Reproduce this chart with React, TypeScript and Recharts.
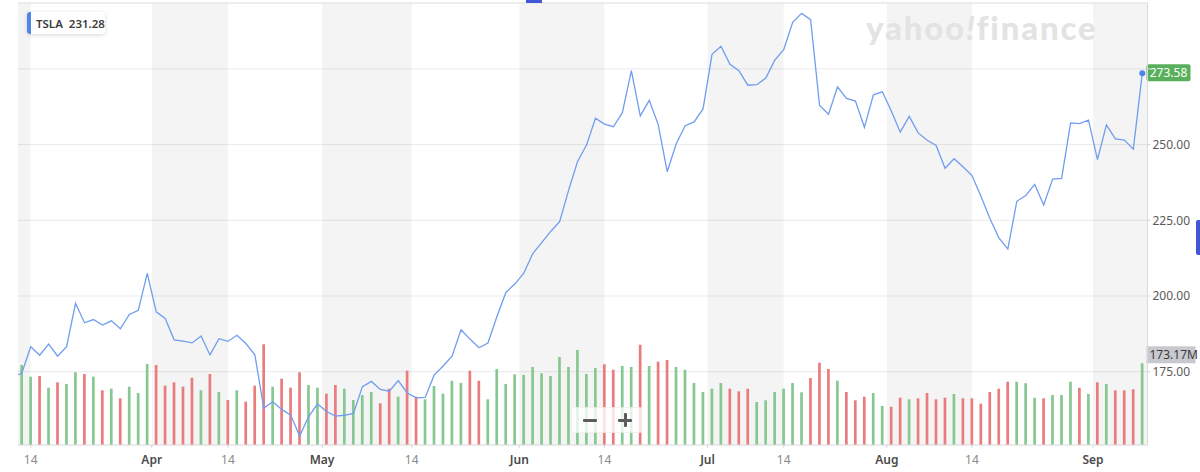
import {
  ComposedChart,
  Line,
  Bar,
  Cell,
  XAxis,
  YAxis,
  CartesianGrid,
  ReferenceArea,
  ReferenceLine,
} from "recharts";

// TSLA daily closes, Mar 10 2023 .. Sep 11 2023 (first one sits just left of the plot)
const closes = [
  173.44,
  174.48, 183.26, 180.45, 184.13, 180.13, 183.25, 197.58, 191.15, 192.22, 190.41,
  191.81, 189.19, 193.88, 195.28, 207.46,
  194.77, 192.58, 185.52, 185.06, 184.51, 186.79, 180.54, 185.9, 185.0, 187.04,
  184.31, 180.59, 162.99, 165.08, 162.55, 160.67, 153.75, 160.19, 164.31,
  161.83, 160.31, 160.61, 161.2, 170.06, 171.79, 169.15, 168.54, 172.08, 167.98,
  166.35, 166.52, 173.86, 176.89, 180.14, 188.87, 185.77, 182.9, 184.47, 193.17,
  201.16, 203.93,
  207.52, 213.97, 217.61, 221.31, 224.57, 234.86, 244.4, 249.83, 258.71, 256.79,
  255.9, 260.54, 274.45, 259.46, 264.61, 256.6, 241.05, 250.21, 256.24, 257.5, 261.77,
  279.82, 282.48, 276.54, 274.43, 269.61, 269.79, 271.99, 277.9, 281.38, 290.38,
  293.34, 291.26, 262.9, 260.02, 269.06, 265.28, 264.35, 255.71, 266.44, 267.43,
  261.07, 254.11, 259.32, 253.86, 251.45, 249.7, 242.19, 245.34, 242.65, 239.76,
  232.96, 225.6, 219.22, 215.49, 231.28, 233.19, 236.86, 230.04, 238.59, 238.82,
  257.18, 256.9, 258.08,
  245.01, 256.49, 251.92, 251.49, 248.5, 273.58,
];

// volume in millions, Mar 13 onwards (none shown for Mar 10)
const volumes = [
  null,
  169.6, 144.8, 146.3, 121.5, 132.9, 129.3, 154.1, 150.5, 144.8, 116.0, 119.4, 99.0,
  123.6, 110.2, 171.7,
  169.6, 125.7, 132.9, 123.6, 142.7, 116.0, 150.5, 112.4, 95.4, 116.0, 91.8, 125.7,
  213.5, 123.6, 140.6, 121.5, 154.1, 127.2, 121.5,
  108.8, 127.2, 119.4, 95.4, 106.0, 112.4, 88.4, 119.4, 102.4, 157.5, 102.4, 96.9,
  125.1, 108.8, 136.3, 131.4, 157.5, 136.3, 96.9, 161.1, 129.3, 149.9,
  148.4, 165.4, 152.0, 146.3, 186.6, 165.4, 201.4, 150.5, 163.2, 171.1, 159.6, 167.5,
  165.4, 212.6, 167.5, 176.6, 180.2, 165.4, 159.6, 131.4, 112.4,
  119.4, 131.4, 119.4, 113.8, 119.4, 91.2, 94.8, 112.4, 119.4, 131.4, 111.7, 142.0,
  174.5, 161.1, 136.3, 112.4, 94.8, 102.4, 110.2, 82.7,
  81.2, 100.3, 96.9, 99.0, 110.2, 96.9, 100.3, 108.1, 99.0, 99.0, 87.6, 112.4, 119.4,
  134.2, 134.2, 130.8, 100.3, 99.0, 106.0, 106.0, 134.2, 121.5, 108.1,
  132.9, 129.3, 116.0, 116.0, 118.1, 173.17,
];

// trading-day index positions (0 = Mar 13)
const xTicks = [1, 14.5, 23, 33.5, 43.5, 55.5, 65, 76.5, 85, 96.5, 106, 119.5];
const xTickLabels = ["14", "Apr", "14", "May", "14", "Jun", "14", "Jul", "14", "Aug", "14", "Sep"];
const priceTicks = [175, 200, 225, 250, 275];

const X_DOMAIN: [number, number] = [-0.42, 125.58];
const PRICE_DOMAIN: [number, number] = [150.79, 296.76];
const VOL_DOMAIN: [number, number] = [0, 937];

// 1st..14th of each month shaded
const bandStarts = [X_DOMAIN[0], 14.5, 33.5, 55.5, 76.5, 96.5, 119.5];
const bandEnds = [1, 23, 43.5, 65, 85, 106, X_DOMAIN[1]];

const data = closes.map((close, k) => ({
  i: k - 1,
  close,
  volume: volumes[k],
  up: k === 0 || close >= closes[k - 1],
}));

const lastIdx = closes.length - 1;
const lastClose = closes[lastIdx];
const lastVolume = volumes[lastIdx] as number;

const FONT = "'Noto Sans', 'Liberation Sans', Arial, sans-serif";

function DateTick({ x, y, payload }: any) {
  const label = xTickLabels[xTicks.indexOf(payload.value)];
  const isMonth = label !== "14";
  return (
    <text
      x={x}
      y={y}
      dy="0.71em"
      textAnchor="middle"
      fontSize={12}
      fontFamily={FONT}
      fontWeight={isMonth ? 600 : 400}
      fill={isMonth ? "#4a4a4a" : "#8a8a8a"}
    >
      {label}
    </text>
  );
}

function PriceTick({ x, y, payload }: any) {
  if (payload.value === 275) return <g />;
  return (
    <text x={x} y={y} dy="0.355em" textAnchor="start" fontSize={12} fontFamily={FONT} fill="#5a5a5a">
      {payload.value.toFixed(2)}
    </text>
  );
}

function PriceTag({ viewBox }: any) {
  const x = viewBox.x + viewBox.width;
  const y = viewBox.y;
  return (
    <g>
      <rect x={x - 1} y={y - 9} width={44} height={17} rx={2} fill="#59b05c" />
      <text x={x + 21} y={y} dy="0.34em" textAnchor="middle" fontSize={12} fontFamily={FONT} fill="#fff">
        {lastClose.toFixed(2)}
      </text>
    </g>
  );
}

function VolumeTag({ viewBox }: any) {
  const x = viewBox.x + viewBox.width;
  const y = viewBox.y;
  return (
    <g>
      <rect x={x - 1} y={y - 17} width={49} height={17} fill="#c8c9ce" />
      <text x={x + 2} y={y - 8.5} dy="0.34em" textAnchor="start" fontSize={12} fontFamily={FONT} fill="#3a3a3a">
        {lastVolume.toFixed(2)}M
      </text>
    </g>
  );
}

function LastDot(props: any) {
  if (props.index !== lastIdx) return <g key={props.index} />;
  return <circle key="last" cx={props.cx} cy={props.cy} r={3} fill="#4d84ea" />;
}

const barStyle = { position: "absolute" as const, background: "#5c5c5c", borderRadius: 1 };

export default function App() {
  return (
    <div style={{ position: "relative", width: 1200, height: 472, background: "#fff", fontFamily: FONT }}>
      <style>{`body{margin:0}`}</style>
      <ComposedChart
        width={1200}
        height={472}
        data={data}
        margin={{ top: 3, right: 0, bottom: 0, left: 18 }}
      >
        {bandStarts.map((s, k) => (
          <ReferenceArea
            key={k}
            x1={s}
            x2={bandEnds[k]}
            yAxisId="price"
            fill="#000"
            fillOpacity={0.042}
            stroke="none"
          />
        ))}
        <CartesianGrid yAxisId="price" vertical={false} stroke="#ebebeb" />
        <ReferenceLine yAxisId="price" y={PRICE_DOMAIN[1]} stroke="#e6e6e6" />
        <XAxis
          dataKey="i"
          type="number"
          domain={X_DOMAIN}
          allowDataOverflow
          ticks={xTicks}
          tick={<DateTick />}
          tickSize={3}
          tickMargin={7}
          tickLine={{ stroke: "#d6d6d6" }}
          axisLine={{ stroke: "#e0e0e0" }}
          height={27}
          interval={0}
        />
        <YAxis
          yAxisId="price"
          orientation="right"
          domain={PRICE_DOMAIN}
          allowDataOverflow
          ticks={priceTicks}
          tick={<PriceTick />}
          tickSize={3}
          tickMargin={2}
          tickLine={{ stroke: "#d6d6d6" }}
          axisLine={{ stroke: "#d9d9d9" }}
          width={52.5}
          interval={0}
        />
        <YAxis yAxisId="vol" hide domain={VOL_DOMAIN} allowDataOverflow />
        <Bar dataKey="volume" yAxisId="vol" barSize={2.7} isAnimationActive={false}>
          {data.map((d, k) => (
            <Cell key={k} fill={d.up ? "#86c890" : "#ea7c7e"} />
          ))}
        </Bar>
        <Line
          dataKey="close"
          yAxisId="price"
          type="linear"
          stroke="#6f9def"
          strokeWidth={1.3}
          dot={<LastDot />}
          activeDot={false}
          isAnimationActive={false}
        />
        <ReferenceLine yAxisId="price" y={lastClose} stroke="none" label={<PriceTag />} />
        <ReferenceLine yAxisId="vol" y={lastVolume} stroke="none" label={<VolumeTag />} />
      </ComposedChart>

      {/* legend chip */}
      <div
        style={{
          position: "absolute",
          left: 27,
          top: 12,
          height: 22,
          width: 78,
          background: "#fff",
          borderRadius: 3,
          boxShadow: "0 1px 4px rgba(0,0,0,0.16)",
          display: "flex",
          alignItems: "center",
          fontSize: 11.5,
          fontWeight: 600,
          color: "#3c3c3c",
          whiteSpace: "nowrap",
        }}
      >
        <span style={{ width: 4, height: 22, background: "#4f86ec", borderRadius: "3px 0 0 3px", marginRight: 5 }} />
        TSLA&nbsp;&nbsp;231.28
      </div>

      {/* watermark */}
      <div
        style={{
          position: "absolute",
          left: 866,
          top: 7,
          fontFamily: "Lato, 'Noto Sans', sans-serif",
          fontWeight: 900,
          fontSize: 33,
          color: "#e3e3e3",
          letterSpacing: 1.8,
          whiteSpace: "nowrap",
        }}
      >
        yahoo<span style={{ fontStyle: "italic" }}>!</span>finance
      </div>

      {/* zoom control */}
      <div
        style={{
          position: "absolute",
          left: 571,
          top: 407,
          width: 71,
          height: 26,
          background: "rgba(255,255,255,0.78)",
          border: "1px solid rgba(0,0,0,0.05)",
          borderRadius: 2,
          boxSizing: "border-box",
        }}
      >
        <div style={{ ...barStyle, left: 11, top: 10.5, width: 14, height: 3 }} />
        <div style={{ ...barStyle, left: 46, top: 10.5, width: 14, height: 3 }} />
        <div style={{ ...barStyle, left: 51.5, top: 5, width: 3, height: 14 }} />
      </div>

      {/* scroll handles */}
      <div style={{ position: "absolute", left: 526, top: 0, width: 16, height: 3, background: "#4456d8" }} />
      <div
        style={{
          position: "absolute",
          left: 1196,
          top: 220,
          width: 4,
          height: 35,
          background: "#4456d8",
          borderRadius: "2px 0 0 2px",
        }}
      />
    </div>
  );
}
